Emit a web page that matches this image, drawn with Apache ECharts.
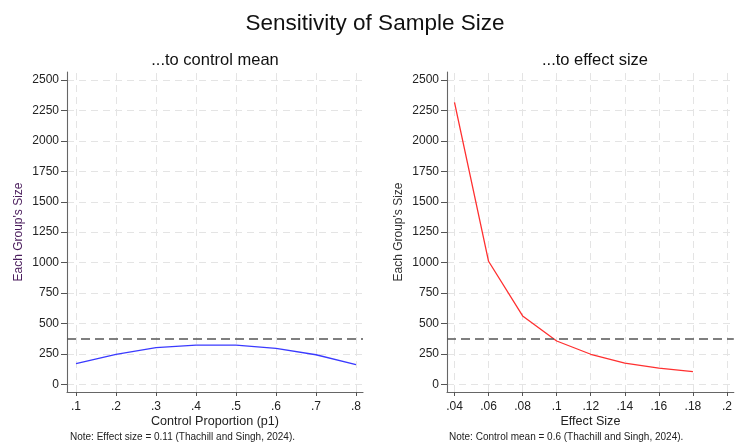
<!DOCTYPE html>
<html><head><meta charset="utf-8">
<script src="https://cdn.jsdelivr.net/npm/echarts@6/dist/echarts.min.js"></script>
<style>html,body{margin:0;padding:0;background:#fff}#c{width:735px;height:444px}</style>
</head><body><div id="c"></div>
<script>
var controlP = [0.1, 0.2, 0.3, 0.4, 0.5, 0.6, 0.7, 0.8];
var sizeByControl = [170, 247, 301, 322, 322, 295, 243, 161];
var effectSizes = [0.04, 0.06, 0.08, 0.10, 0.12, 0.14, 0.16, 0.18];
var sizeByEffect = [2316, 1011, 562, 356, 247, 175, 134, 104];
var referenceSize = 376;
var yTicks = [0, 250, 500, 750, 1000, 1250, 1500, 1750, 2000, 2250, 2500];
var xTicksLeft = [0.1, 0.2, 0.3, 0.4, 0.5, 0.6, 0.7, 0.8];
var xTicksRight = [0.04, 0.06, 0.08, 0.1, 0.12, 0.14, 0.16, 0.18, 0.2];

var FONT = 'Liberation Sans, Arial, sans-serif';
function fmtX(v){ return String(+v.toFixed(3)).replace(/^0\./, '.'); }
function fmtY(v){ return String(Math.round(v)); }
function xAxis(idx, min, max, ticks, name){
  return {type:'value', gridIndex:idx, min:min, max:max, name:name, nameLocation:'middle', nameGap:23,
    nameMoveOverlap:false,
    nameTextStyle:{fontFamily:FONT, fontSize:12.6, color:'#222'},
    axisLine:{show:true, onZero:false, lineStyle:{color:'#666', width:1.1}},
    axisTick:{show:true, length:4, customValues:ticks, lineStyle:{color:'#555'}},
    axisLabel:{customValues:ticks, formatter:fmtX, fontFamily:FONT, fontSize:12, color:'#222', margin:9},
    splitLine:{show:false}};
}
function yAxis(idx, nameColor){
  return {type:'value', gridIndex:idx, min:-63, max:2566, name:"Each Group's Size", nameLocation:'middle', nameGap:42,
    nameMoveOverlap:false,
    nameTextStyle:{fontFamily:FONT, fontSize:12, color:nameColor},
    axisLine:{show:true, onZero:false, lineStyle:{color:'#666', width:1.1}},
    axisTick:{show:true, length:6, customValues:yTicks, lineStyle:{color:'#555'}},
    axisLabel:{customValues:yTicks, formatter:fmtY, fontFamily:FONT, fontSize:12, color:'#222', margin:8},
    splitLine:{show:false}};
}
function pairs(xs, ys){ return xs.map(function(x,i){return [x, ys[i]];}); }
function gridSeries(idx, xt){
  var d = [];
  xt.forEach(function(v){ d.push({xAxis:v}); });
  yTicks.forEach(function(v){ d.push({yAxis:v}); });
  return {type:'line', xAxisIndex:idx, yAxisIndex:idx, data:[], z:0, silent:true,
    markLine:{silent:true, z:0, symbol:['none','none'], label:{show:false}, animation:false,
      lineStyle:{type:[7,5], color:'#e4e4e4', width:1}, data:d}};
}
var refLine = {silent:true, z:4, symbol:['none','none'], label:{show:false},
  lineStyle:{type:[9,5], color:'#555', width:1.6}, data:[{yAxis:referenceSize}]};
var tStyle = function(size, color){ return {fontFamily:FONT, fontSize:size, fontWeight:'normal', color:color}; };

var chart = echarts.init(document.getElementById('c'), null, {renderer:'canvas'});
chart.setOption({
  animation:false,
  backgroundColor:'#fff',
  title:[
    {text:'Sensitivity of Sample Size', left:375, textAlign:'center', top:12, padding:0, textStyle:tStyle(22.5,'#111')},
    {text:'...to control mean', left:215, textAlign:'center', top:52, padding:0, textStyle:tStyle(16.5,'#111')},
    {text:'...to effect size', left:595, textAlign:'center', top:52, padding:0, textStyle:tStyle(16.5,'#111')},
    {text:'Note: Effect size = 0.11 (Thachill and Singh, 2024).', left:70, top:432.5, padding:0, textStyle:tStyle(10,'#222')},
    {text:'Note: Control mean = 0.6 (Thachill and Singh, 2024).', left:449, top:432.5, padding:0, textStyle:tStyle(10,'#222')}
  ],
  grid:[
    {left:67, right:372, top:72, bottom:52},
    {left:447, right:-7, top:72, bottom:52}
  ],
  xAxis:[
    xAxis(0, 0.0775, 0.8175, xTicksLeft, 'Control Proportion (p1)'),
    xAxis(1, 0.0356, 0.204, xTicksRight, 'Effect Size')
  ],
  yAxis:[ yAxis(0, '#4a1c5c'), yAxis(1, '#333') ],
  series:[
    gridSeries(0, xTicksLeft),
    gridSeries(1, xTicksRight),
    {type:'line', xAxisIndex:0, yAxisIndex:0, data:pairs(controlP, sizeByControl), showSymbol:false, z:3,
      lineStyle:{color:'#3a3aff', width:1.3}, markLine:refLine},
    {type:'line', xAxisIndex:1, yAxisIndex:1, data:pairs(effectSizes, sizeByEffect), showSymbol:false, z:3,
      lineStyle:{color:'#ff3030', width:1.3}, markLine:refLine}
  ]
});
</script></body></html>
